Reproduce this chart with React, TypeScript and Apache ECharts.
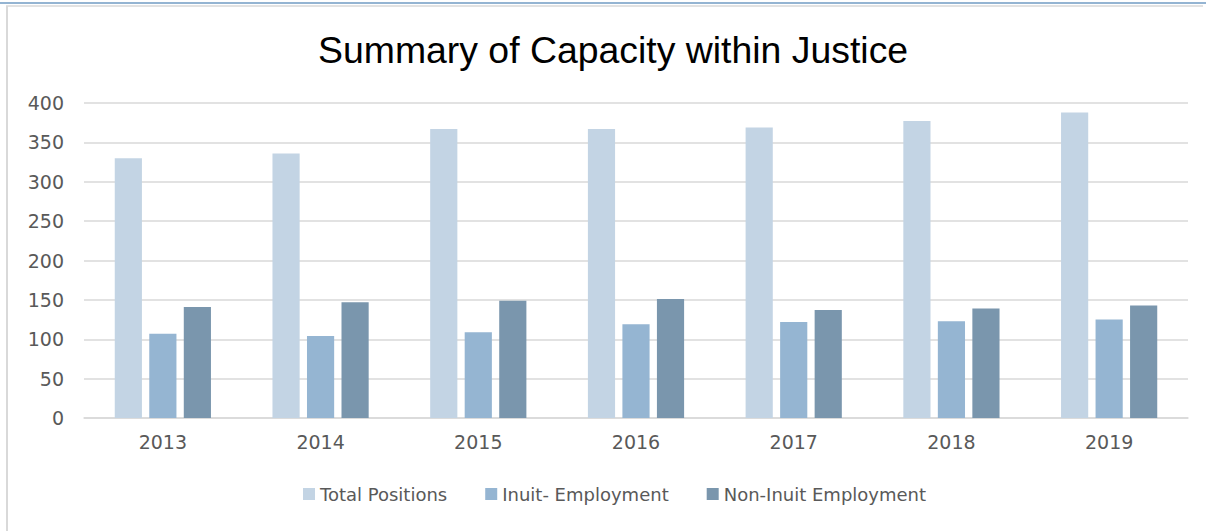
import React, { useEffect, useRef } from "react";
import * as echarts from "echarts";

const years = ["2013", "2014", "2015", "2016", "2017", "2018", "2019"];
const totalPositions = [330, 336, 367, 367, 369, 377, 388];
const inuitEmployment = [107, 104, 109, 119, 122, 123, 125];
const nonInuitEmployment = [141, 147, 149, 151, 137, 139, 143];
const seriesNames = ["Total Positions", "Inuit- Employment", "Non-Inuit Employment"];
const colors = ["#c3d4e4", "#95b5d2", "#7a96ad"];

export default function App() {
  const ref = useRef<HTMLDivElement>(null);
  useEffect(() => {
    if (!ref.current) return;
    const chart = echarts.init(ref.current, null, { renderer: "svg" });
    const font = "'DejaVu Sans', sans-serif";
    const mk = (name: string, data: number[], color: string) => ({
      name,
      type: "bar",
      data,
      itemStyle: { color },
      barGap: "27%",
      barCategoryGap: "39%",
    });
    chart.setOption({
      animation: false,
      backgroundColor: "#ffffff",
      title: {
        text: "Summary of Capacity within Justice",
        left: 313,
        top: 26,
        textStyle: {
          fontFamily: "'Liberation Sans', Arial, sans-serif",
          fontSize: 37.4,
          fontWeight: "normal",
          color: "#000000",
        },
      },
      legend: {
        data: seriesNames,
        left: 298,
        top: 480,
        itemWidth: 12,
        itemHeight: 12,
        itemGap: 38,
        icon: "rect",
        textStyle: { fontFamily: font, fontSize: 18, color: "#595959" },
      },
      grid: { left: 84, right: 19, top: 103, bottom: 113, containLabel: false },
      xAxis: {
        type: "category",
        data: years,
        axisLine: { lineStyle: { color: "#d9d9d9", width: 1.5 } },
        axisTick: { show: false },
        axisLabel: { fontFamily: font, fontSize: 19, color: "#595959", margin: 14 },
      },
      yAxis: {
        type: "value",
        min: 0,
        max: 400,
        interval: 50,
        axisLine: { show: false },
        axisTick: { show: false },
        splitLine: { lineStyle: { color: "#d9d9d9", width: 1.5 } },
        axisLabel: { fontFamily: font, fontSize: 19, color: "#595959", margin: 20 },
      },
      graphic: [
        { type: "line", shape: { x1: 0, y1: 3, x2: 1206, y2: 3 }, style: { stroke: "#94b4d2", lineWidth: 2 } },
        { type: "line", shape: { x1: 6, y1: 6, x2: 1203, y2: 6 }, style: { stroke: "#d9d9d9", lineWidth: 1.5 } },
        { type: "line", shape: { x1: 7, y1: 6, x2: 7, y2: 531 }, style: { stroke: "#d9d9d9", lineWidth: 2 } },
      ],
      series: [
        mk(seriesNames[0], totalPositions, colors[0]),
        mk(seriesNames[1], inuitEmployment, colors[1]),
        mk(seriesNames[2], nonInuitEmployment, colors[2]),
      ],
    });
    return () => chart.dispose();
  }, []);
  return <div ref={ref} style={{ position: "fixed", left: 0, top: 0, width: 1207, height: 531 }} />;
}
